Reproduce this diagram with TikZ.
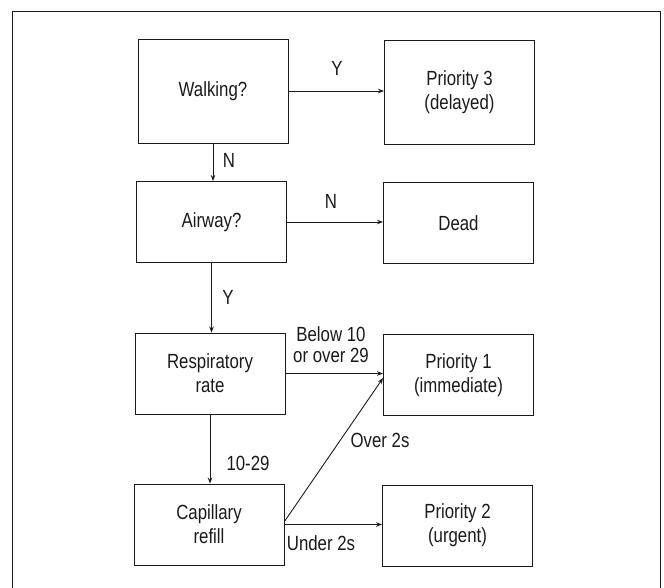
\documentclass[tikz,border=0pt]{standalone}
\usepackage{fontspec}
\setmainfont{Liberation Sans}[FakeStretch=0.82]
\usetikzlibrary{arrows.meta}
\definecolor{triageink}{HTML}{1A1A1A}

\begin{document}
\begin{tikzpicture}[
  x=1pt,
  y=-1pt,
  every node/.style={font=\fontsize{20.5}{24}\selectfont, text=triageink},
  box/.style={draw=triageink, line width=0.9pt, minimum width=150pt,
    minimum height=81pt, align=center, inner sep=2pt},
  tallbox/.style={box, minimum height=104pt},
  arr/.style={draw=triageink, line width=0.9pt,
    -{Stealth[length=6pt,width=4.5pt]}},
  lbl/.style={inner sep=1pt, align=center}
]
  \useasboundingbox (0,0) rectangle (664,587);

  % frame, open at the bottom
  \draw[triageink, line width=1pt] (12,590) -- (12,11) -- (660,11) -- (660,590);

  % boxes
  \node[tallbox] (walk) at (213,91) {Walking?};
  \node[tallbox] (pthree) at (459.5,92) {Priority 3\\(delayed)};
  \node[box] (airway) at (211.5,222) {Airway?};
  \node[box] (dead) at (458.5,223) {Dead};
  \node[box] (resp) at (210,373.5) {Respiratory\\rate};
  \node[box] (pone) at (458.5,375) {Priority 1\\(immediate)};
  \node[box] (cap) at (209,524.5) {Capillary\\refill};
  \node[box] (ptwo) at (457.5,525.5) {Priority 2\\(urgent)};

  % connectors
  \draw[arr] (walk.east) -- (walk.east -| pthree.west);
  \draw[arr] (walk.south) -- (walk.south |- airway.north);
  \draw[arr] (airway.east) -- (airway.east -| dead.west);
  \draw[arr] (airway.south) -- (airway.south |- resp.north);
  \draw[arr] (resp.east) -- (resp.east -| pone.west);
  \draw[arr] (resp.south) -- (resp.south |- cap.north);
  \draw[arr] ([yshift=3pt]cap.east) -- ([yshift=-3pt]pone.west);
  \draw[arr] (cap.east) -- (cap.east -| ptwo.west);

  % labels
  \node[lbl] (lwalkyes) at (337,68) {Y};
  \node[lbl] (lwalkno) at (229,160) {N};
  \node[lbl] (lairno) at (331,201) {N};
  \node[lbl] (lairyes) at (228,297) {Y};
  \node[lbl, font=\fontsize{20.5}{21}\selectfont] (lrespout) at (331,345) {Below 10\\or over 29};
  \node[lbl] (lrespin) at (248,463) {10-29};
  \node[lbl] (lcapslow) at (380,440) {Over 2s};
  \node[lbl] (lcapfast) at (321,543) {Under 2s};
\end{tikzpicture}
\end{document}
